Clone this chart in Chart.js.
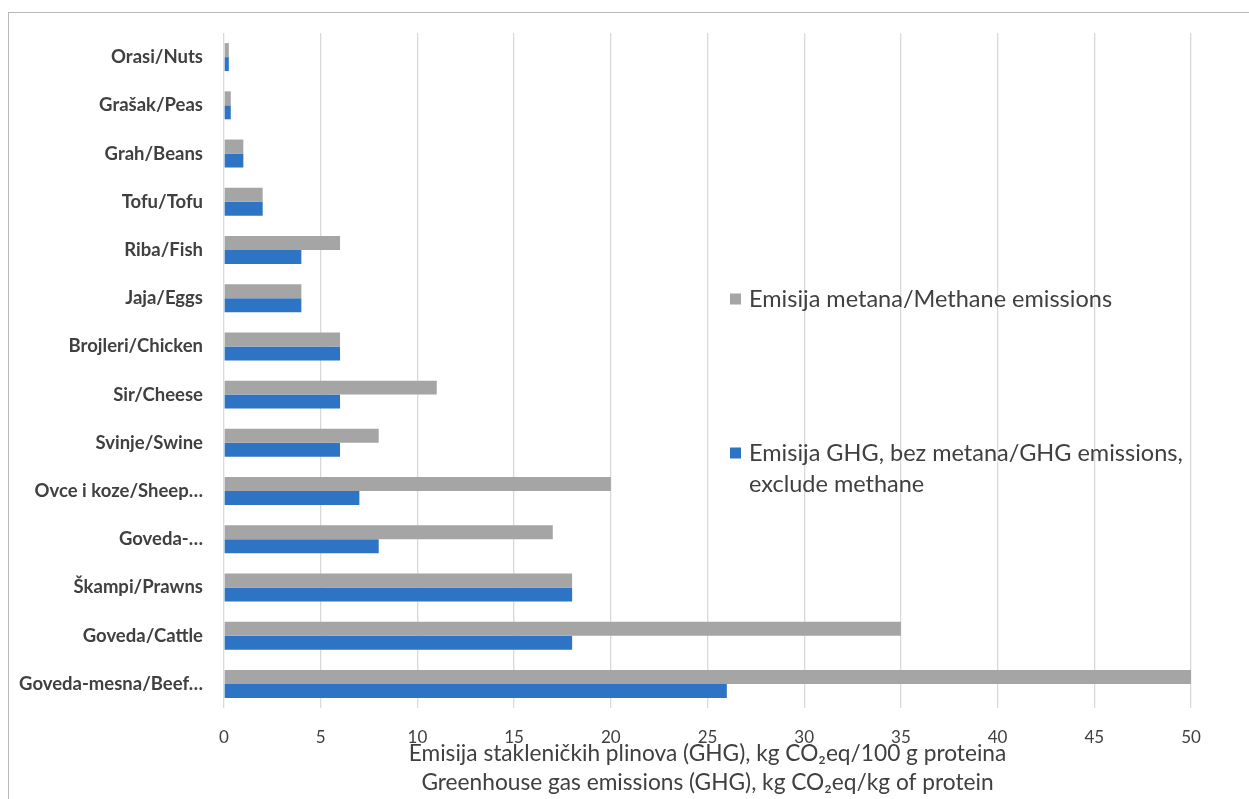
<!DOCTYPE html>
<html>
<head>
<meta charset="utf-8">
<script src="https://cdn.jsdelivr.net/npm/chart.js@4/dist/chart.umd.min.js"></script>
<style>
  html, body { margin: 0; padding: 0; background: #fff; overflow: hidden; }
  #frame {
    position: absolute; left: 8px; top: 12px; width: 1300px; height: 900px;
    border: 1.5px solid #b8b8b8; box-sizing: border-box;
  }
  #chart { position: absolute; left: 0; top: 0; }
</style>
</head>
<body>
<div id="frame"></div>
<canvas id="chart" width="1249" height="812"></canvas>
<script>
// food categories, top to bottom
const categories = [
  'Orasi/Nuts', 'Grašak/Peas', 'Grah/Beans', 'Tofu/Tofu', 'Riba/Fish',
  'Jaja/Eggs', 'Brojleri/Chicken', 'Sir/Cheese', 'Svinje/Swine',
  'Ovce i koze/Sheep…', 'Goveda-…', 'Škampi/Prawns', 'Goveda/Cattle',
  'Goveda-mesna/Beef…'
];

// kg CO2eq
const methaneEmissions = [0.25, 0.35, 1, 2, 6, 4, 6, 11, 8, 20, 17, 18, 35, 50];
const ghgNoMethane     = [0.25, 0.35, 1, 2, 4, 4, 6, 6, 6, 7, 8, 18, 18, 26];

const seriesLabels = [
  'Emisija metana/Methane emissions',
  'Emisija GHG, bez metana/GHG emissions, exclude methane'
];
const xTickStep = 5;
const xMax = 50;
const axisTitle = [
  'Emisija stakleničkih plinova (GHG), kg CO₂eq/100 g proteina',
  'Greenhouse gas emissions (GHG), kg CO₂eq/kg of protein'
];

const FONT = 'Lato, "Open Sans", sans-serif';
const TEXT = '#404040';
const GRAY = '#A5A5A5';
const BLUE = '#2E74C4';

// legend sits inside the plot, on the right, like the Excel original
const inPlotLegend = {
  id: 'inPlotLegend',
  afterDraw(chart, args, opts) {
    const ctx = chart.ctx;
    ctx.save();
    ctx.font = opts.fontSize + 'px ' + FONT;
    ctx.textBaseline = 'middle';
    ctx.textAlign = 'left';
    chart.data.datasets.forEach((ds, i) => {
      const y = opts.rows[i];
      ctx.fillStyle = ds.backgroundColor;
      ctx.fillRect(opts.x, y - opts.box / 2, opts.box, opts.box);
      // wrap words to the plot's right edge
      const maxW = chart.chartArea.right - (opts.x + opts.gap);
      const words = ds.label.split(' ');
      const lines = [];
      let line = '';
      words.forEach(w => {
        const test = line ? line + ' ' + w : w;
        if (ctx.measureText(test).width > maxW && line) {
          lines.push(line);
          line = w;
        } else {
          line = test;
        }
      });
      lines.push(line);
      ctx.fillStyle = TEXT;
      lines.forEach((l, k) => ctx.fillText(l, opts.x + opts.gap, y + k * opts.lineH));
    });
    ctx.restore();
  }
};

new Chart(document.getElementById('chart').getContext('2d'), {
  type: 'bar',
  data: {
    labels: categories,
    datasets: [
      { label: seriesLabels[0], data: methaneEmissions, backgroundColor: GRAY,
        categoryPercentage: 0.58, barPercentage: 1.0 },
      { label: seriesLabels[1], data: ghgNoMethane, backgroundColor: BLUE,
        categoryPercentage: 0.58, barPercentage: 1.0 }
    ]
  },
  options: {
    indexAxis: 'y',
    responsive: false,
    animation: false,
    layout: { padding: { top: 33, right: 58, bottom: 0, left: 0 } },
    plugins: {
      legend: { display: false },
      tooltip: { enabled: false },
      inPlotLegend: { x: 730, gap: 19, box: 11, fontSize: 23.5, lineH: 31, rows: [299, 453] }
    },
    scales: {
      x: {
        min: 0, max: xMax,
        ticks: { stepSize: xTickStep, color: TEXT, padding: 19,
                 font: { family: FONT, size: 17 } },
        grid: { color: '#D9D9D9', lineWidth: 1.3, drawTicks: false },
        border: { display: false },
        title: {
          display: true, text: axisTitle, color: TEXT,
          font: { family: FONT, size: 22.7, lineHeight: 29 / 22.7 },
          padding: { top: 0, bottom: 15 }
        },
        afterFit(scale) { scale.height = 104; }
      },
      y: {
        ticks: { color: TEXT, padding: 13, autoSkip: false,
                 font: { family: FONT, size: 18.5, weight: 'bold' } },
        grid: { display: false },
        border: { display: false },
        afterFit(scale) { scale.width = 224; }
      }
    }
  },
  plugins: [inPlotLegend]
});
</script>
</body>
</html>
